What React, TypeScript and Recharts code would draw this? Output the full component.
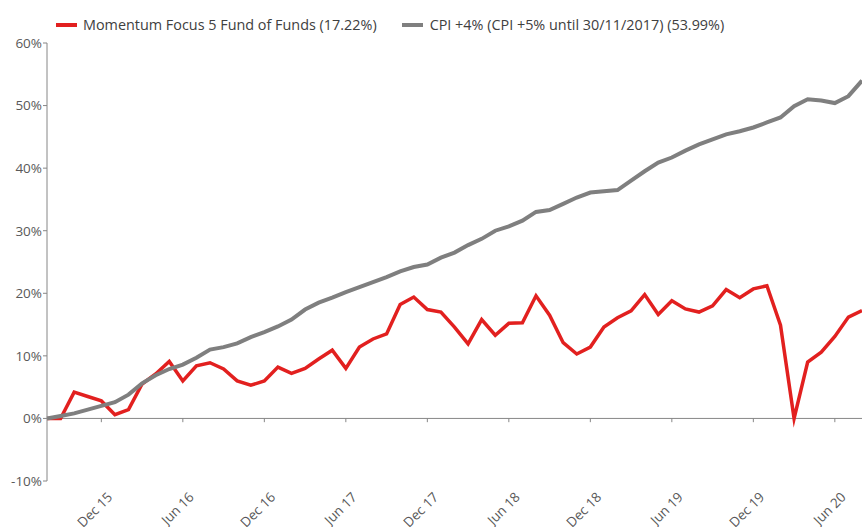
import React from "react";
import { LineChart, Line, XAxis, YAxis, ReferenceLine, Legend } from "recharts";

const months = [
  "Aug 15", "Sep 15", "Oct 15", "Nov 15", "Dec 15",
  "Jan 16", "Feb 16", "Mar 16", "Apr 16", "May 16", "Jun 16", "Jul 16", "Aug 16", "Sep 16", "Oct 16", "Nov 16", "Dec 16",
  "Jan 17", "Feb 17", "Mar 17", "Apr 17", "May 17", "Jun 17", "Jul 17", "Aug 17", "Sep 17", "Oct 17", "Nov 17", "Dec 17",
  "Jan 18", "Feb 18", "Mar 18", "Apr 18", "May 18", "Jun 18", "Jul 18", "Aug 18", "Sep 18", "Oct 18", "Nov 18", "Dec 18",
  "Jan 19", "Feb 19", "Mar 19", "Apr 19", "May 19", "Jun 19", "Jul 19", "Aug 19", "Sep 19", "Oct 19", "Nov 19", "Dec 19",
  "Jan 20", "Feb 20", "Mar 20", "Apr 20", "May 20", "Jun 20", "Jul 20", "Aug 20",
];

const fundValues = [
  0, 0, 4.2, 3.5, 2.8, 0.6, 1.4, 5.5, 7.1, 9.1,
  6.0, 8.4, 8.9, 7.9, 6.0, 5.3, 6.0, 8.2, 7.2, 8.0,
  9.5, 10.9, 8.0, 11.4, 12.7, 13.5, 18.2, 19.4, 17.4, 17.0,
  14.6, 11.9, 15.8, 13.3, 15.2, 15.3, 19.6, 16.5, 12.1, 10.3,
  11.4, 14.6, 16.1, 17.2, 19.8, 16.6, 18.8, 17.5, 17.0, 18.0,
  20.6, 19.3, 20.7, 21.2, 14.9, 0, 9.0, 10.6, 13.1, 16.2,
  17.22,
];

const cpiValues = [
  0, 0.4, 0.8, 1.4, 2.0, 2.6, 3.8, 5.6, 6.9, 7.9,
  8.6, 9.7, 11.0, 11.4, 12.0, 13.0, 13.8, 14.7, 15.8, 17.4,
  18.5, 19.3, 20.2, 21.0, 21.8, 22.6, 23.5, 24.2, 24.6, 25.7,
  26.5, 27.7, 28.7, 30.0, 30.7, 31.6, 33.0, 33.3, 34.3, 35.3,
  36.1, 36.3, 36.5, 38.0, 39.5, 40.9, 41.7, 42.8, 43.8, 44.6,
  45.4, 45.9, 46.5, 47.3, 48.1, 49.9, 51.0, 50.8, 50.4, 51.5,
  53.99,
];

const xTickIndices = [4, 10, 16, 22, 28, 34, 40, 46, 52, 58];
const yTicks = [-10, 0, 10, 20, 30, 40, 50, 60];

const fundName = "Momentum Focus 5 Fund of Funds (17.22%)";
const cpiName = "CPI +4% (CPI +5% until 30/11/2017) (53.99%)";

const RED = "#E2201F";
const GREY = "#7F7F7F";
const AXIS = "#868686";
const TEXT = "#595959";
const FONT = "'Open Sans', 'Noto Sans', sans-serif";

const data = months.map((m, i) => ({ i, month: m, fund: fundValues[i], cpi: cpiValues[i] }));

const XTick = (props: any) => {
  const { x, y, payload } = props;
  return (
    <g transform={`translate(${x + 12},${y + 9})`}>
      <text transform="rotate(-45)" textAnchor="end" fill={TEXT} fontSize={13.5} fontFamily={FONT}>
        {months[payload.value]}
      </text>
    </g>
  );
};

const LegendContent = () => (
  <div
    style={{
      height: 30,
      display: "flex",
      alignItems: "flex-start",
      paddingTop: 4,
      boxSizing: "border-box",
      fontFamily: FONT,
      fontSize: 14.4,
      lineHeight: "16px",
      color: "#404040",
      whiteSpace: "nowrap",
    }}
  >
    <span style={{ marginLeft: 56, display: "inline-flex", alignItems: "center" }}>
      <span style={{ width: 21, height: 4, background: RED, display: "inline-block", marginRight: 6 }} />
      {fundName}
    </span>
    <span style={{ marginLeft: 25, display: "inline-flex", alignItems: "center" }}>
      <span style={{ width: 21, height: 4, background: GREY, display: "inline-block", marginRight: 7 }} />
      {cpiName}
    </span>
  </div>
);

export default function App() {
  return (
    <div style={{ position: "absolute", left: 0, top: 0, width: 862, height: 527, background: "#fff" }}>
      <LineChart width={862} height={527} data={data} margin={{ top: 13, right: 0, left: 0, bottom: 0 }}>
        <Legend
          verticalAlign="top"
          align="left"
          content={<LegendContent />}
          wrapperStyle={{ height: 30 }}
        />
        <XAxis
          dataKey="i"
          type="number"
          domain={[0, 60]}
          ticks={xTickIndices}
          interval={0}
          axisLine={false}
          tickLine={false}
          height={46}
          tick={<XTick />}
        />
        <YAxis
          type="number"
          domain={[-10, 60]}
          ticks={yTicks}
          interval={0}
          width={47}
          axisLine={{ stroke: AXIS, strokeWidth: 1 }}
          tickLine={{ stroke: AXIS }}
          tickSize={4}
          tickMargin={1}
          tickFormatter={(v: number) => `${v}%`}
          tick={{ fill: TEXT, fontSize: 13.5, fontFamily: FONT }}
        />
        <ReferenceLine y={0} stroke={AXIS} strokeWidth={1} />
        {xTickIndices.map((t) => (
          <ReferenceLine
            key={t}
            segment={[{ x: t, y: 0 }, { x: t, y: -0.6 }]}
            stroke={AXIS}
            strokeWidth={1}
          />
        ))}
        <Line
          type="linear"
          dataKey="fund"
          stroke={RED}
          strokeWidth={3.5}
          strokeMiterlimit={12}
          dot={false}
          activeDot={false}
          isAnimationActive={false}
        />
        <Line
          type="linear"
          dataKey="cpi"
          stroke={GREY}
          strokeWidth={4}
          dot={false}
          activeDot={false}
          isAnimationActive={false}
        />
      </LineChart>
    </div>
  );
}
